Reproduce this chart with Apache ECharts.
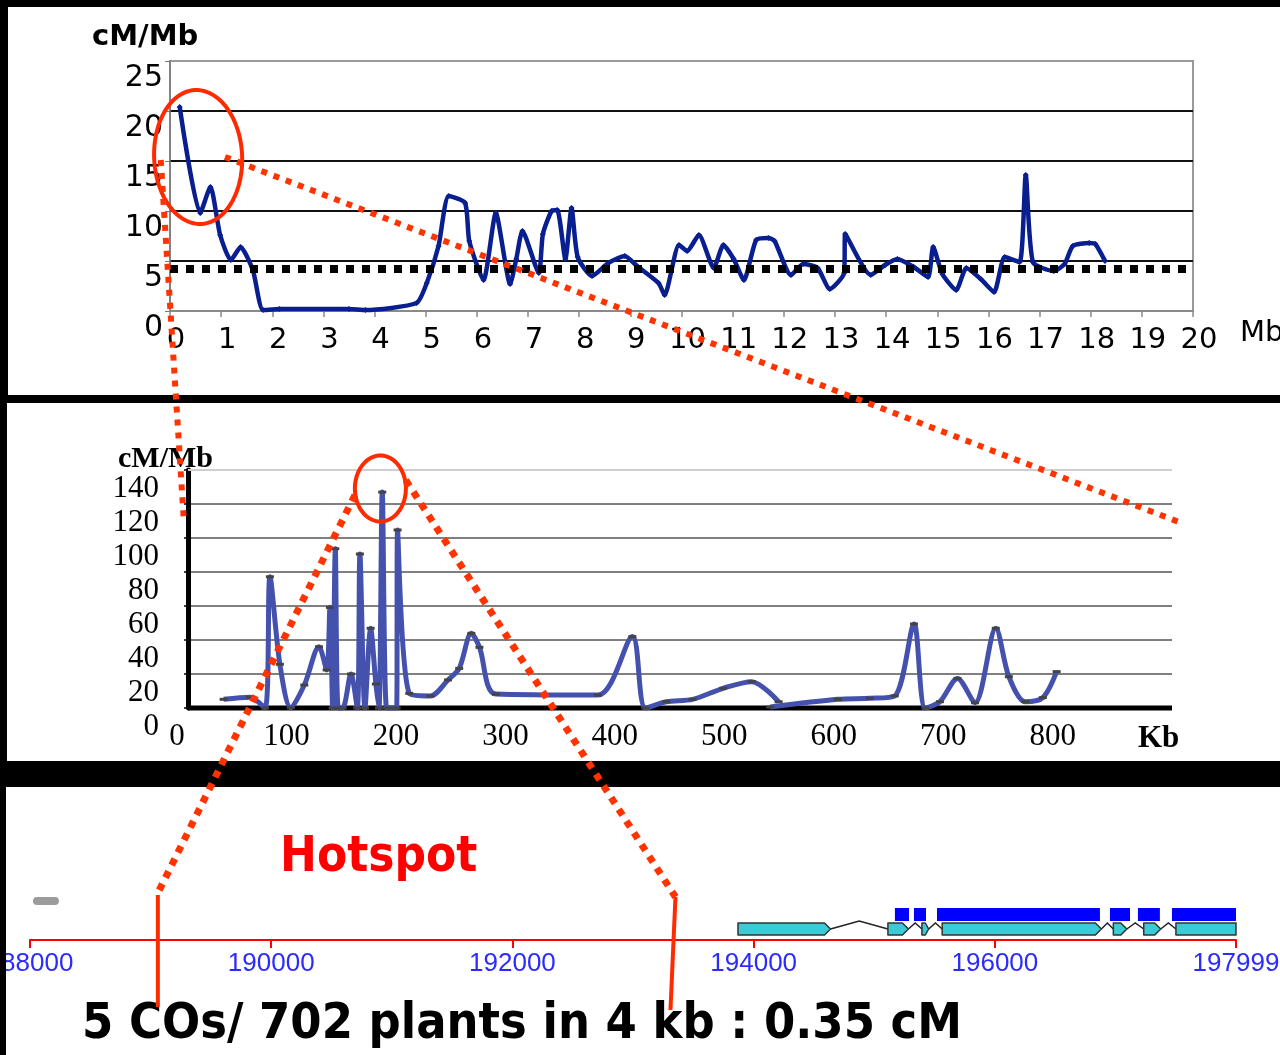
<!DOCTYPE html>
<html>
<head>
<meta charset="utf-8">
<script src="https://cdn.jsdelivr.net/npm/echarts@6/dist/echarts.min.js"></script>
<style>
  html, body { margin: 0; padding: 0; background: #000; }
  #stage { position: relative; width: 1280px; height: 1055px; overflow: hidden; background: #000; }
  .panel { position: absolute; background: #fff; }
  #chart { position: absolute; left: 0; top: 0; width: 1280px; height: 1055px; }
  #edge { position: absolute; left: 0; top: 787px; width: 6px; height: 268px; background: #000; }
</style>
</head>
<body>
<div id="stage">
  <div class="panel" style="left:8px;top:7px;width:1272px;height:388px"></div>
  <div class="panel" style="left:7px;top:403px;width:1273px;height:358px"></div>
  <div class="panel" style="left:6px;top:787px;width:1274px;height:268px"></div>
  <div id="chart"></div>
  <div id="edge"></div>
</div>
<script>
// ---- Chromosome-wide recombination rate (position in Mb, rate in cM/Mb)
const genomeMb = [0.19, 0.59, 0.79, 0.98, 1.19, 1.38, 1.62, 1.82, 2.14, 3.5, 3.82, 4.82, 5.02, 5.25, 5.45, 5.77, 5.85, 6.13, 6.37, 6.65, 6.77, 6.89, 7.21, 7.29, 7.46, 7.57, 7.73, 7.85, 7.97, 8.25, 8.57, 8.89, 9.13, 9.55, 9.67, 9.95, 10.11, 10.34, 10.63, 10.82, 11.02, 11.22, 11.46, 11.70, 11.82, 12.14, 12.38, 12.66, 12.9, 13.18, 13.2, 13.7, 13.98, 14.22, 14.54, 14.82, 14.92, 15.1, 15.37, 15.57, 15.85, 16.11, 16.32, 16.61, 16.73, 16.87, 17.28, 17.49, 17.65, 17.97, 18.09, 18.28];
const genomeRate = [20.4, 9.8, 12.4, 7.6, 5.1, 6.4, 4.1, 0.1, 0.2, 0.2, 0.1, 0.8, 2.8, 6.5, 11.5, 10.8, 7.0, 3.1, 9.8, 2.7, 5.2, 8.0, 3.8, 7.7, 10.0, 10.1, 5.2, 10.3, 5.4, 3.5, 4.8, 5.5, 4.5, 2.8, 1.6, 6.6, 6.0, 7.6, 4.3, 6.6, 5.2, 3.1, 7.1, 7.3, 7.0, 3.6, 4.7, 4.3, 2.2, 3.8, 7.7, 3.6, 4.6, 5.2, 4.4, 3.4, 6.4, 3.7, 2.1, 4.3, 3.2, 1.9, 5.4, 4.9, 13.6, 4.9, 4.0, 4.7, 6.5, 6.8, 6.7, 5.0];
const genomeMean = 4.2;

// ---- Fine-scale rate over the first 800 kb (position in kb, rate in cM/Mb)
// '-' marks the gap between the two mapped intervals
const regionKb = [42.6, 66.7, 80.4, 84.9, 94, 104, 116.3, 129.7, 136.7, 139.7, 142.2, 144.6, 147.3, 151.3, 158.9, 164.7, 167.1, 171.7, 176.9, 181.7, 184.5, 187.5, 191.5, 196.1, 200.6, 201.5, 212.2, 231.6, 247.6, 257.8, 268.9, 276.3, 291.3, 384.5, 416, 428, 447, 471, 499, 525, 549.6, 546, 542, 603.7, 633, 655.7, 673.3, 683.7, 697, 713, 729, 748, 760, 775, 791, 803.6];
const regionRate = [5.1, 6.3, 0, 77.2, 25.7, 0.2, 13.5, 36, 22.4, 59.2, 0, 93.7, 0, 0, 20, 0, 90.6, 0, 46.9, 14.1, 0, 127, 0, 0, 0, 104.7, 8.6, 7.1, 16.5, 23.3, 43.9, 35.7, 8.2, 7.6, 42, 0, 3.7, 5.1, 11.6, 15.5, 3.7, '-', 0.6, 5.1, 5.7, 7.1, 49.4, 0, 3.7, 17.4, 3.1, 46.9, 18.4, 3.7, 6.1, 21.4];
const regionGridValues = [20, 40, 60, 80, 100, 120];

// ---- Hotspot gene model (coordinates in bp)
const upstreamFeature = [[188025, 188240]];
const exonStart = [193870, 195113, 195395, 195563, 196982, 197234, 197501];
const exonEnd   = [194637, 195283, 195451, 196883, 197094, 197375, 197999];
const cdsStart  = [195171, 195329, 195520, 196954, 197186, 197468];
const cdsEnd    = [195288, 195429, 196871, 197120, 197368, 197999];
const hotspotBp = [189060, 193335];

// ---- Callout anchors, in the units of the panel they sit in
const topCircleCenter = [0.55, 15.4];       // Mb, cM/Mb
const topCalloutRight = [[1.075, 15.4], [917.8, 108.8]]; // top panel -> region panel
const topCalloutLeft  = [[-0.18, 15.1], [6.4, 108.8]];
const peakCircleCenter = [185.8, 129.1];    // kb, cM/Mb
const peakCalloutLeft  = [162.6, 125.3];
const peakCalloutRight = [209, 134];

const genomePoints = genomeMb.map((x, i) => [x, genomeRate[i]]);
const regionPoints = regionKb.map((x, i) => [x, regionRate[i]]);
const exonItems = exonStart.map((s, i) => [s, exonEnd[i], i === exonStart.length - 1 ? 0 : 1]);
const intronItems = exonStart.slice(1).map((s, i) => [exonEnd[i], s, i === 0 ? 8 : 6]);
const cdsItems = cdsStart.map((s, i) => [s, cdsEnd[i]]);

const midAxisShift = 11; // y axis of the region panel sits right of its 0 kb label

const chart = echarts.init(document.getElementById('chart'), null, { renderer: 'canvas', width: 1280, height: 1055 });

const option = {
  backgroundColor: 'transparent',
  animation: false,
  grid: [
    { left: 170, right: 87, top: 61, bottom: 744, show: true, borderColor: '#9a9a9a', borderWidth: 2, outerBoundsMode: 'none', containLabel: false },
    { left: 177, right: 108, top: 470, bottom: 347, outerBoundsMode: 'none', containLabel: false },
    { left: 30, right: 44, top: 860, bottom: 115, outerBoundsMode: 'none', containLabel: false }
  ],
  xAxis: [
    {
      gridIndex: 0, type: 'value', min: 0, max: 20, interval: 1,
      axisLine: { show: true, onZero: false, lineStyle: { color: '#8a8a8a', width: 2 } },
      axisTick: { show: true, length: 6, lineStyle: { color: '#8a8a8a', width: 1.5 } },
      axisLabel: { color: '#000', fontFamily: 'DejaVu Sans', fontSize: 29, margin: 15, padding: [0, 0, 0, 12] },
      splitLine: { show: false },
      name: 'Mb', nameLocation: 'end', nameGap: 47,
      nameTextStyle: { color: '#000', fontFamily: 'DejaVu Sans', fontSize: 29, align: 'left', verticalAlign: 'top', padding: [8, 0, 0, 0] }
    },
    {
      gridIndex: 1, type: 'value', min: 0, max: 909, interval: 100,
      axisLine: { show: false }, axisTick: { show: false },
      axisLabel: { color: '#000', fontFamily: 'Liberation Serif', fontSize: 31, margin: 13,
        formatter: v => (v <= 800 ? String(v) : '') },
      splitLine: { show: false }
    },
    {
      gridIndex: 2, type: 'value', min: 188000, max: 197999, interval: 2000,
      axisLine: { show: true, onZero: false, lineStyle: { color: '#ff0000', width: 2 } },
      axisTick: { show: true, length: 8, lineStyle: { color: '#ff0000', width: 2 } },
      axisLabel: { color: '#2b2bff', fontFamily: 'Liberation Sans', fontSize: 26, margin: 11, formatter: v => String(v) },
      splitLine: { show: false }
    }
  ],
  yAxis: [
    {
      gridIndex: 0, type: 'value', min: 0, max: 25, interval: 5,
      axisLine: { show: true, lineStyle: { color: '#7a7a7a', width: 1.5 } },
      axisTick: { show: true, length: 5, lineStyle: { color: '#7a7a7a' } },
      axisLabel: { color: '#000', fontFamily: 'DejaVu Sans', fontSize: 30, margin: 7, verticalAlign: 'top', padding: [2, 0, 0, 0] },
      splitLine: { show: true, lineStyle: { color: ['#9a9a9a', '#111', '#111', '#111', '#111', '#9a9a9a'], width: 2 } }
    },
    {
      gridIndex: 1, type: 'value', min: 0, max: 140, interval: 20, offset: -midAxisShift,
      axisLine: { show: true, lineStyle: { color: '#000', width: 5 } },
      axisTick: { show: true, length: 4, lineStyle: { color: '#000', width: 1.5 } },
      axisLabel: { color: '#000', fontFamily: 'Liberation Serif', fontSize: 31, margin: 29, verticalAlign: 'top', padding: [3, 0, 0, 0] },
      splitLine: { show: false }
    },
    { gridIndex: 2, type: 'value', min: 0, max: 1, show: false }
  ],
  series: [
    {
      name: 'chromosome', type: 'line', xAxisIndex: 0, yAxisIndex: 0,
      data: genomePoints, smooth: 0.2, z: 3,
      lineStyle: { color: '#0a1f8f', width: 4.5 },
      symbol: 'diamond', symbolSize: 6, itemStyle: { color: '#0a1f8f' },
      markLine: {
        silent: true, symbol: 'none', label: { show: false }, animation: false,
        lineStyle: { color: '#000', width: 8, type: [8, 8] },
        data: [{ yAxis: genomeMean }]
      }
    },
    {
      name: 'region grid', type: 'custom', xAxisIndex: 1, yAxisIndex: 1, z: 1, silent: true, clip: false,
      data: regionGridValues.concat([140, 0]),
      renderItem: (params, api) => {
        const v = api.value(0);
        const a = api.coord([0, v]);
        const b = api.coord([909, v]);
        const x1 = a[0] + midAxisShift;
        let stroke = '#000', w = 1;
        if (v === 140) { stroke = '#cfcfcf'; w = 2; }
        if (v === 0) { w = 5; }
        return { type: 'line', shape: { x1: x1, y1: a[1], x2: b[0], y2: b[1] }, style: { stroke: stroke, lineWidth: w } };
      }
    },
    {
      name: 'region', type: 'line', xAxisIndex: 1, yAxisIndex: 1,
      data: regionPoints, smooth: 0.3, clip: false, z: 3,
      lineStyle: { color: '#4452ad', width: 5 },
      symbol: 'rect', symbolSize: [8, 3], itemStyle: { color: '#444' }
    },
    {
      name: 'upstream', type: 'custom', xAxisIndex: 2, yAxisIndex: 2, silent: true, clip: false,
      data: upstreamFeature,
      renderItem: (params, api) => {
        const s = api.coord([api.value(0), 0]);
        const e = api.coord([api.value(1), 0]);
        return { type: 'rect', shape: { x: s[0], y: s[1] - 43, width: e[0] - s[0], height: 8, r: 4 }, style: { fill: '#9c9c9c' } };
      }
    },
    {
      name: 'introns', type: 'custom', xAxisIndex: 2, yAxisIndex: 2, silent: true, clip: false,
      data: intronItems,
      renderItem: (params, api) => {
        const s = api.coord([api.value(0), 0]);
        const e = api.coord([api.value(1), 0]);
        const cy = s[1] - 11;
        const h = api.value(2);
        return { type: 'polyline', shape: { points: [[s[0], cy], [(s[0] + e[0]) / 2, cy - h], [e[0], cy]] }, style: { stroke: '#222', lineWidth: 1.5, fill: null } };
      }
    },
    {
      name: 'exons', type: 'custom', xAxisIndex: 2, yAxisIndex: 2, silent: true, clip: false,
      data: exonItems,
      renderItem: (params, api) => {
        const s = api.coord([api.value(0), 0]);
        const e = api.coord([api.value(1), 0]);
        const y0 = s[1] - 17, y1 = s[1] - 5, cy = (y0 + y1) / 2;
        const x0 = s[0], x1 = e[0];
        const tip = api.value(2) ? Math.min(6, (x1 - x0) / 2) : 0;
        const pts = tip
          ? [[x0, y0], [x1 - tip, y0], [x1, cy], [x1 - tip, y1], [x0, y1]]
          : [[x0, y0], [x1, y0], [x1, y1], [x0, y1]];
        return { type: 'polygon', shape: { points: pts }, style: { fill: '#3ccbd6', stroke: '#333', lineWidth: 1.5, lineJoin: 'round' } };
      }
    },
    {
      name: 'cds', type: 'custom', xAxisIndex: 2, yAxisIndex: 2, silent: true, clip: false,
      data: cdsItems,
      renderItem: (params, api) => {
        const s = api.coord([api.value(0), 0]);
        const e = api.coord([api.value(1), 0]);
        return { type: 'rect', shape: { x: s[0], y: s[1] - 32, width: e[0] - s[0], height: 13 }, style: { fill: '#0000ff' } };
      }
    }
  ]
};

chart.setOption(option);

// ---- Callouts and free text, placed from the panels' own scales
const P = (grid, v) => chart.convertToPixel({ gridIndex: grid }, v);
const red = '#ff2a00';
const dots = '#ff3300';

function ellipsePoints(cx, cy, rx, ry, rot) {
  const pts = [];
  for (let i = 0; i < 96; i++) {
    const t = (i / 96) * Math.PI * 2;
    const x = rx * Math.cos(t), y = ry * Math.sin(t);
    pts.push([cx + x * Math.cos(rot) - y * Math.sin(rot), cy + x * Math.sin(rot) + y * Math.cos(rot)]);
  }
  return pts;
}

const c0 = P(0, topCircleCenter);
const c1 = P(1, peakCircleCenter);
const aR0 = P(0, topCalloutRight[0]), aR1 = P(1, topCalloutRight[1]);
const aL0 = P(0, topCalloutLeft[0]),  aL1 = P(1, topCalloutLeft[1]);
const pL = P(1, peakCalloutLeft), pR = P(1, peakCalloutRight);
const hsL = P(2, [hotspotBp[0], 0])[0];
const hsR = P(2, [hotspotBp[1], 0])[0];

const graphics = [
  // Titles and captions
  { type: 'text', x: 92, y: 37, z: 50, style: { text: 'cM/Mb', font: 'bold 29px "DejaVu Sans"', fill: '#000', verticalAlign: 'middle' } },
  { type: 'text', x: 118, y: 459, z: 50, style: { text: 'cM/Mb', font: 'bold 30px "Liberation Serif"', fill: '#000', verticalAlign: 'middle' } },
  { type: 'text', x: 1138, y: 739, z: 50, style: { text: 'Kb', font: 'bold 31px "Liberation Serif"', fill: '#000', verticalAlign: 'middle' } },
  { type: 'text', x: 280, y: 858, z: 50, style: { text: 'Hotspot', font: 'bold 49px "DejaVu Sans Condensed", "DejaVu Sans"', fill: '#ff0000', verticalAlign: 'middle' } },
  { type: 'text', x: 82, y: 1025, z: 50, style: { text: '5 COs/ 702 plants in 4 kb : 0.35 cM', font: 'bold 50px "DejaVu Sans Condensed", "DejaVu Sans"', fill: '#000', verticalAlign: 'middle' } },

  // Circle on the chromosome end and its zoom callouts
  { type: 'polygon', z: 100, silent: true, shape: { points: ellipsePoints(c0[0], c0[1], 44, 67, -0.045) }, style: { fill: null, stroke: red, lineWidth: 4 } },
  { type: 'line', z: 100, silent: true, shape: { x1: aR0[0], y1: aR0[1], x2: aR1[0], y2: aR1[1] }, style: { stroke: dots, lineWidth: 6, lineDash: [6, 7] } },
  { type: 'line', z: 100, silent: true, shape: { x1: aL0[0], y1: aL0[1], x2: aL1[0], y2: aL1[1] }, style: { stroke: dots, lineWidth: 6, lineDash: [6, 7] } },

  // Circle on the highest peak and its zoom callouts down to the hotspot interval
  { type: 'polygon', z: 100, silent: true, shape: { points: ellipsePoints(c1[0], c1[1], 25.5, 33, 0) }, style: { fill: null, stroke: red, lineWidth: 4 } },
  { type: 'line', z: 100, silent: true, shape: { x1: pL[0], y1: pL[1], x2: hsL, y2: 893 }, style: { stroke: dots, lineWidth: 7, lineDash: [7, 7] } },
  { type: 'line', z: 100, silent: true, shape: { x1: pR[0], y1: pR[1], x2: hsR + 2, y2: 897 }, style: { stroke: dots, lineWidth: 7, lineDash: [7, 7] } },
  { type: 'line', z: 100, silent: true, shape: { x1: hsL, y1: 895, x2: hsL, y2: 1007 }, style: { stroke: red, lineWidth: 4 } },
  { type: 'line', z: 100, silent: true, shape: { x1: hsR + 2, y1: 897, x2: hsR - 3, y2: 1010 }, style: { stroke: red, lineWidth: 4 } }
];

chart.setOption({ graphic: graphics });
</script>
</body>
</html>
